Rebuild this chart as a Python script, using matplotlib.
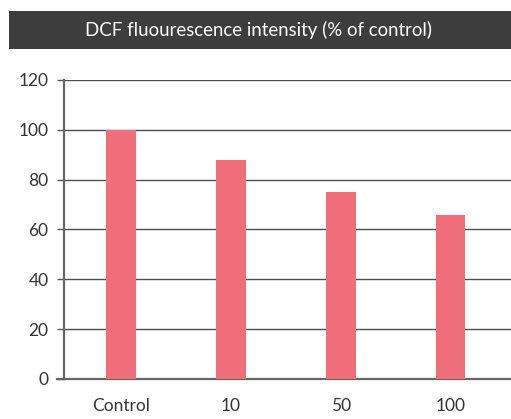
import matplotlib.pyplot as plt
from matplotlib.patches import Rectangle

categories = ['Control', '10', '50', '100']
values = [100, 88, 75, 66]
y_ticks = [0, 20, 40, 60, 80, 100, 120]

plt.rcParams['font.family'] = ['Lato', 'DejaVu Sans']

fig = plt.figure(figsize=(5.11, 4.19), dpi=100)
ax = fig.add_axes([0.125, 0.0955, 0.875, 0.7136])

x = range(len(categories))
ax.bar(x, values, width=0.27, color='#f06e7a', zorder=3)

ax.set_ylim(0, 120)
ax.set_xlim(-0.52, 3.55)
ax.set_yticks(y_ticks)
ax.set_xticks(list(x))
ax.set_xticklabels(categories)
ax.yaxis.grid(True, color='#4d4d4d', linewidth=1.0, zorder=0)

for side in ['top', 'right']:
    ax.spines[side].set_visible(False)
ax.spines['left'].set_color('#666666')
ax.spines['left'].set_linewidth(1.6)
ax.spines['bottom'].set_color('#666666')
ax.spines['bottom'].set_linewidth(1.6)
ax.spines['bottom'].set_bounds(-0.52 - 0.015 * 4.07, 3.55)

ax.tick_params(axis='y', length=5, width=1.0, color='#555555', pad=6,
               labelsize=12.5, labelcolor='#333333')
ax.tick_params(axis='x', length=0, pad=14, labelsize=12.5, labelcolor='#333333')

# dark title banner
fig.patches.append(Rectangle((0.0176, 0.883), 0.99, 0.0907, transform=fig.transFigure,
                             facecolor='#3d3d3d', edgecolor='none'))
fig.text(0.505, 0.928, 'DCF fluourescence intensity (% of control)', color='white',
         fontsize=13.4, ha='center', va='center')

fig.savefig('out.png', dpi=100)
plt.close()
